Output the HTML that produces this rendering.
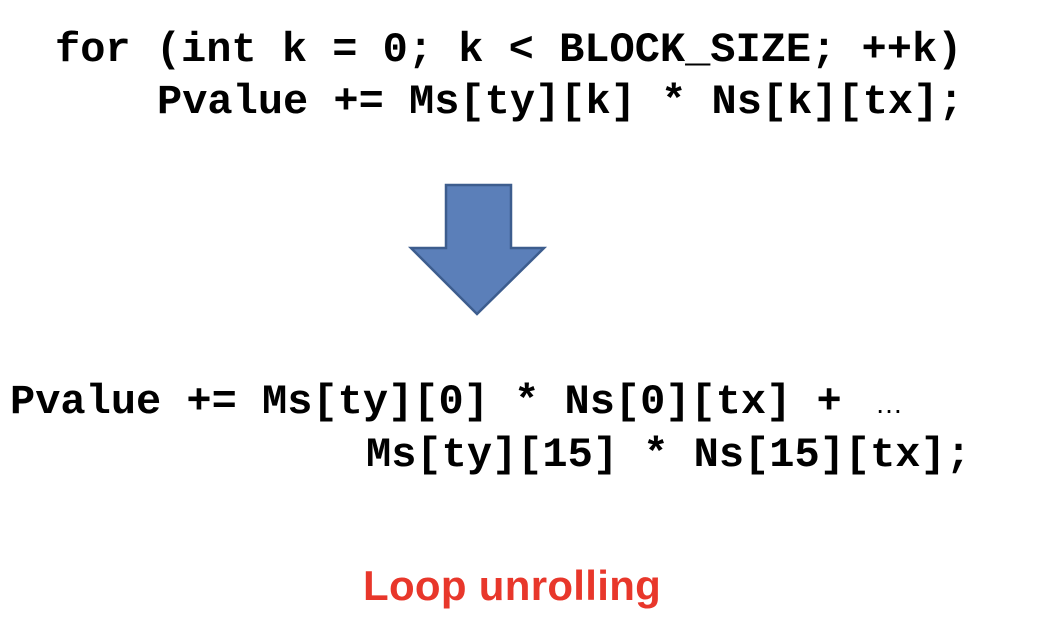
<!DOCTYPE html>
<html><head><meta charset="utf-8"><style>
html,body{margin:0;padding:0;background:#fff;width:1060px;height:636px;overflow:hidden;position:relative}
.c{position:absolute;font-family:"Liberation Mono",monospace;font-weight:bold;font-size:42px;line-height:1;white-space:pre;color:#000}
.r{position:absolute;font-family:"Liberation Sans",sans-serif;font-weight:bold;font-size:42px;color:#e8372b;white-space:pre;line-height:1;letter-spacing:0.3px}
</style></head><body>
<div class="c" style="left:55px;top:29px">for (int k = 0; k &lt; BLOCK_SIZE; ++k)</div>
<div class="c" style="left:157px;top:81px">Pvalue += Ms[ty][k] * Ns[k][tx];</div>
<svg style="position:absolute;left:0;top:0" width="1060" height="636">
<polygon points="446,185 511,185 511,248 544,248 477,314 411,248 446,248" fill="#5b7fb9" stroke="#3d5d8e" stroke-width="2.5"/>
</svg>
<div class="c" style="left:10px;top:381px">Pvalue += Ms[ty][0] * Ns[0][tx] + <span style="font-family:'Liberation Sans',sans-serif;font-weight:normal;font-size:28px;position:relative;left:8px">…</span></div>
<div class="c" style="left:366px;top:434px">Ms[ty][15] * Ns[15][tx];</div>
<div class="r" style="left:363px;top:565px">Loop unrolling</div>
</body></html>
